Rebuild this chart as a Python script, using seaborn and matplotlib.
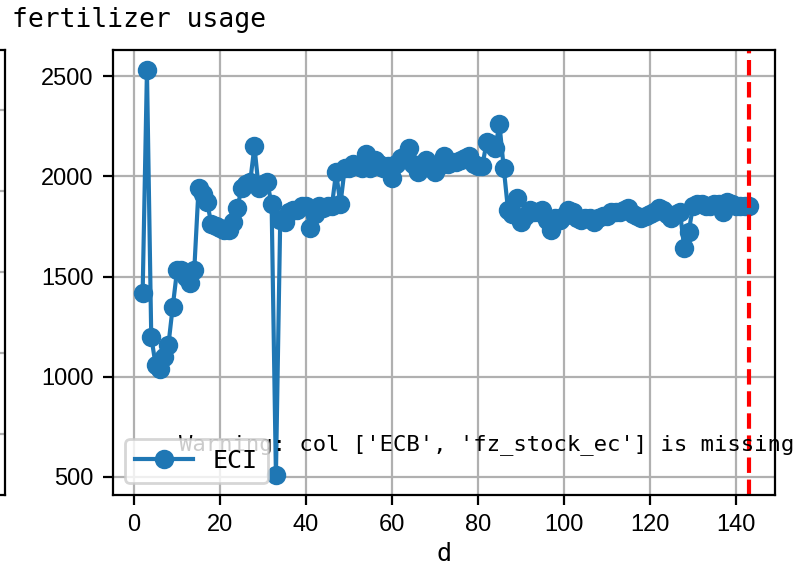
import numpy as np
import pandas as pd
import seaborn as sns
import matplotlib.pyplot as plt

# >>>>> 1. Data
days = list(range(2, 144))
eci = [
    1420, 2530, 1200, 1060, 1040, 1100, 1160, 1350, 1530, 1530,
    1500, 1470, 1530, 1940, 1910, 1870, 1760, 1750, 1740, 1730,
    1730, 1770, 1840, 1940, 1960, 1970, 2150, 1940, 1960, 1970,
    1860, 510, 1780, 1770, 1820, 1830, 1830, 1850, 1850, 1740,
    1810, 1850, 1840, 1850, 1850, 2020, 1860, 2040, 2040, 2060,
    2050, 2040, 2110, 2040, 2080, 2060, 2040, 2050, 1990, 2060,
    2090, 2100, 2140, 2060, 2020, 2050, 2080, 2040, 2020, 2050,
    2100, 2060, 2070, 2070, 2080, 2090, 2100, 2060, 2050, 2050,
    2170, 2160, 2140, 2260, 2040, 1830, 1810, 1890, 1770, 1800,
    1830, 1820, 1820, 1830, 1780, 1730, 1790, 1780, 1800, 1830,
    1820, 1790, 1780, 1790, 1790, 1770, 1790, 1800, 1800, 1820,
    1820, 1820, 1830, 1840, 1810, 1800, 1790, 1800, 1810, 1820,
    1840, 1830, 1810, 1790, 1810, 1820, 1640, 1720, 1850, 1860,
    1860, 1850, 1850, 1860, 1860, 1820, 1870, 1860, 1850, 1850,
    1850, 1850,
]
cutoff_day = 143
missing_cols = ['ECB', 'fz_stock_ec']
left_grid = [0.137, 0.319, 0.501, 0.683, 0.865]
# <<<<< 1. Data

plt.rcParams['font.family'] = ['DejaVu Sans Mono']

df = pd.DataFrame({'d': days, 'ECI': eci})

fig = plt.figure(figsize=(3.97, 2.84), dpi=200)

# neighbour panel, only its right edge is visible
ax0 = fig.add_axes([-0.5, 0.1285, 0.5063, 0.7835])
ax0.set_ylim(0, 1)
ax0.set_yticks(left_grid)
ax0.set_xticks([])
ax0.tick_params(left=False, labelleft=False)
ax0.grid(True, axis='y')

ax = fig.add_axes([0.1423, 0.1285, 0.8338, 0.7835])
sns.lineplot(data=df, x='d', y='ECI', marker='o', markersize=6,
             markeredgecolor='#1f77b4', markeredgewidth=1,
             linewidth=1.5, color='#1f77b4', label='ECI', ax=ax)
ax.axvline(cutoff_day, color='red', linestyle='--', linewidth=1.5)
ax.set_xlim(-4.9, 149.1)
ax.set_ylabel('')
ax.set_xlabel('d', fontsize=9, labelpad=2)
ax.set_xticks([0, 20, 40, 60, 80, 100, 120, 140])
ax.set_yticks([500, 1000, 1500, 2000, 2500])
for lab in ax.get_xticklabels() + ax.get_yticklabels():
    lab.set_family('Liberation Sans')
    lab.set_fontsize(8.5)
ax.grid(True)

ax.text(0.1, 0.1, "Warning: col {} is missing".format(missing_cols),
        transform=ax.transAxes, fontsize=8)
ax.legend(loc='lower left', fontsize=9, handlelength=2.3)

fig.text(12 / 794, 0.9525, 'fertilizer usage', fontsize=9.5, va='baseline')

fig.savefig('out.png', dpi=200)
